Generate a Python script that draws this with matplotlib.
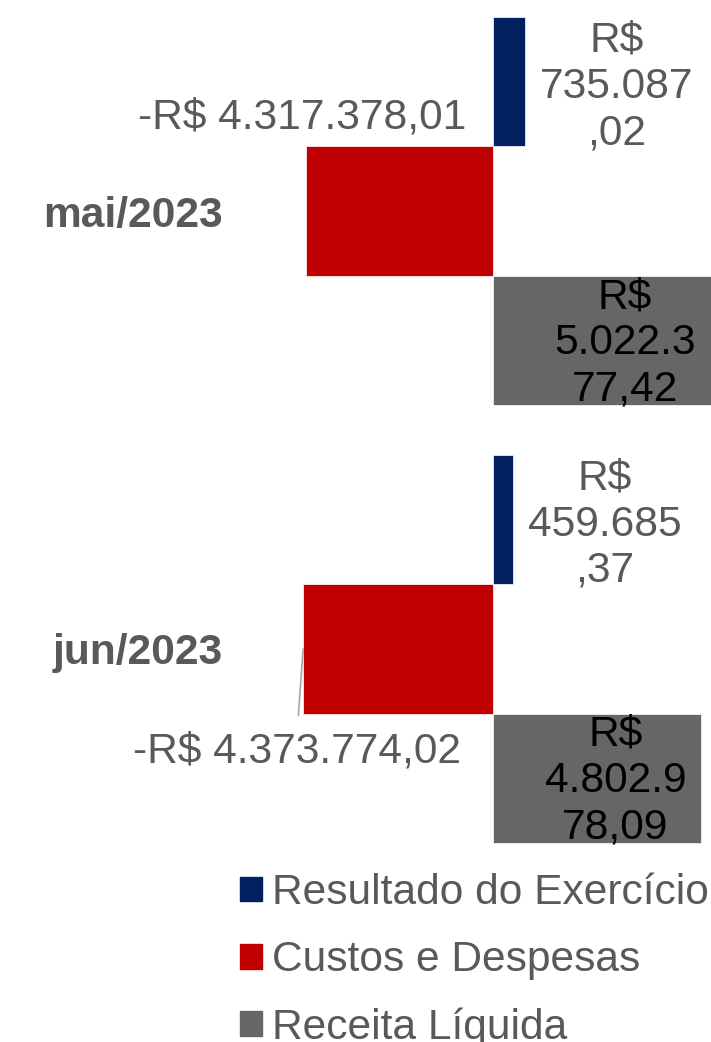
import matplotlib
matplotlib.use("Agg")
import matplotlib.pyplot as plt
from matplotlib.patches import Patch

plt.rcParams["font.family"] = ["Liberation Sans", "DejaVu Sans"]

categories = ["mai/2023", "jun/2023"]
series_names = ["Resultado do Exercício", "Custos e Despesas", "Receita Líquida"]
resultado = [735087.02, 459685.37]
custos = [-4317378.01, -4373774.02]
receita = [5022377.42, 4802978.09]

NAVY = "#002060"
RED = "#C00000"
GREY_BAR = "#666666"
GREY_TXT = "#595959"
FS = 30.6


def brl(v):
    s = f"{abs(v):,.2f}".replace(",", "X").replace(".", ",").replace("X", ".")
    return ("-" if v < 0 else "") + "R$ " + s


def wrapped(v, n=7):
    num = brl(v).split(" ")[1]
    parts = [num[i:i + n] for i in range(0, len(num), n)]
    return "R$\n" + "\n".join(parts)


W, H = 711, 1042
fig = plt.figure(figsize=(W / 100, H / 100), dpi=100)
fig.patch.set_facecolor("white")
ax = fig.add_axes([235 / W, 1 - 867 / H, 1 - 235 / W, 867 / H])

k = 218 / receita[0]  # pixels per unit
ax.set_xlim(-(493 - 235) / k, 218 / k)
ax.set_ylim(1.498, -0.482)

bh = 0.295
ypos = list(range(len(categories)))
off = [-bh, 0, bh]
cols = [NAVY, RED, GREY_BAR]
vals = [resultado, custos, receita]
for j in range(3):
    ax.barh([y + off[j] for y in ypos], vals[j], height=bh, color=cols[j],
            edgecolor="white", linewidth=0.5, label=series_names[j])

ax.set_yticks(ypos)
ax.set_yticklabels(categories, fontsize=FS, fontweight="bold", color=GREY_TXT)
ax.tick_params(axis="y", length=0, pad=9)
ax.set_xticks([])
for s in ax.spines.values():
    s.set_visible(False)

# resultado labels (outside end, wrapped)
for i, v in enumerate(resultado):
    ax.annotate(wrapped(v), (v, i - bh), xytext=(92, -5), textcoords="offset pixels",
                ha="center", va="center", multialignment="center",
                fontsize=FS, color=GREY_TXT)

# receita labels (inside end, black)
for i, v in enumerate(receita):
    ax.annotate(wrapped(v), (v, i + bh), xytext=(-86, -3), textcoords="offset pixels",
                ha="center", va="center", multialignment="center",
                fontsize=FS, color="black")

# custos labels (moved)
ax.annotate(brl(custos[0]), (custos[0], 0), xytext=(-3, 94), textcoords="offset pixels",
            ha="center", va="center", fontsize=FS, color=GREY_TXT)
ax.annotate(brl(custos[1]), (custos[1], 1), xytext=(-6, -103), textcoords="offset pixels",
            ha="center", va="center", fontsize=FS, color=GREY_TXT,
            arrowprops=dict(arrowstyle="-", color="#A6A6A6", lw=1.2,
                            shrinkA=-10, shrinkB=0, relpos=(0.5, 1.0)))

handles = [Patch(color=c) for c in cols]
fig.legend(handles, series_names, loc="upper left",
           bbox_to_anchor=(240 / W, 1 - 873 / H), frameon=False,
           fontsize=FS, labelcolor=GREY_TXT, handlelength=0.52, handleheight=0.52,
           handletextpad=0.24, labelspacing=0.64, borderpad=0, borderaxespad=0)

fig.savefig("out.png", dpi=100, facecolor="white")
